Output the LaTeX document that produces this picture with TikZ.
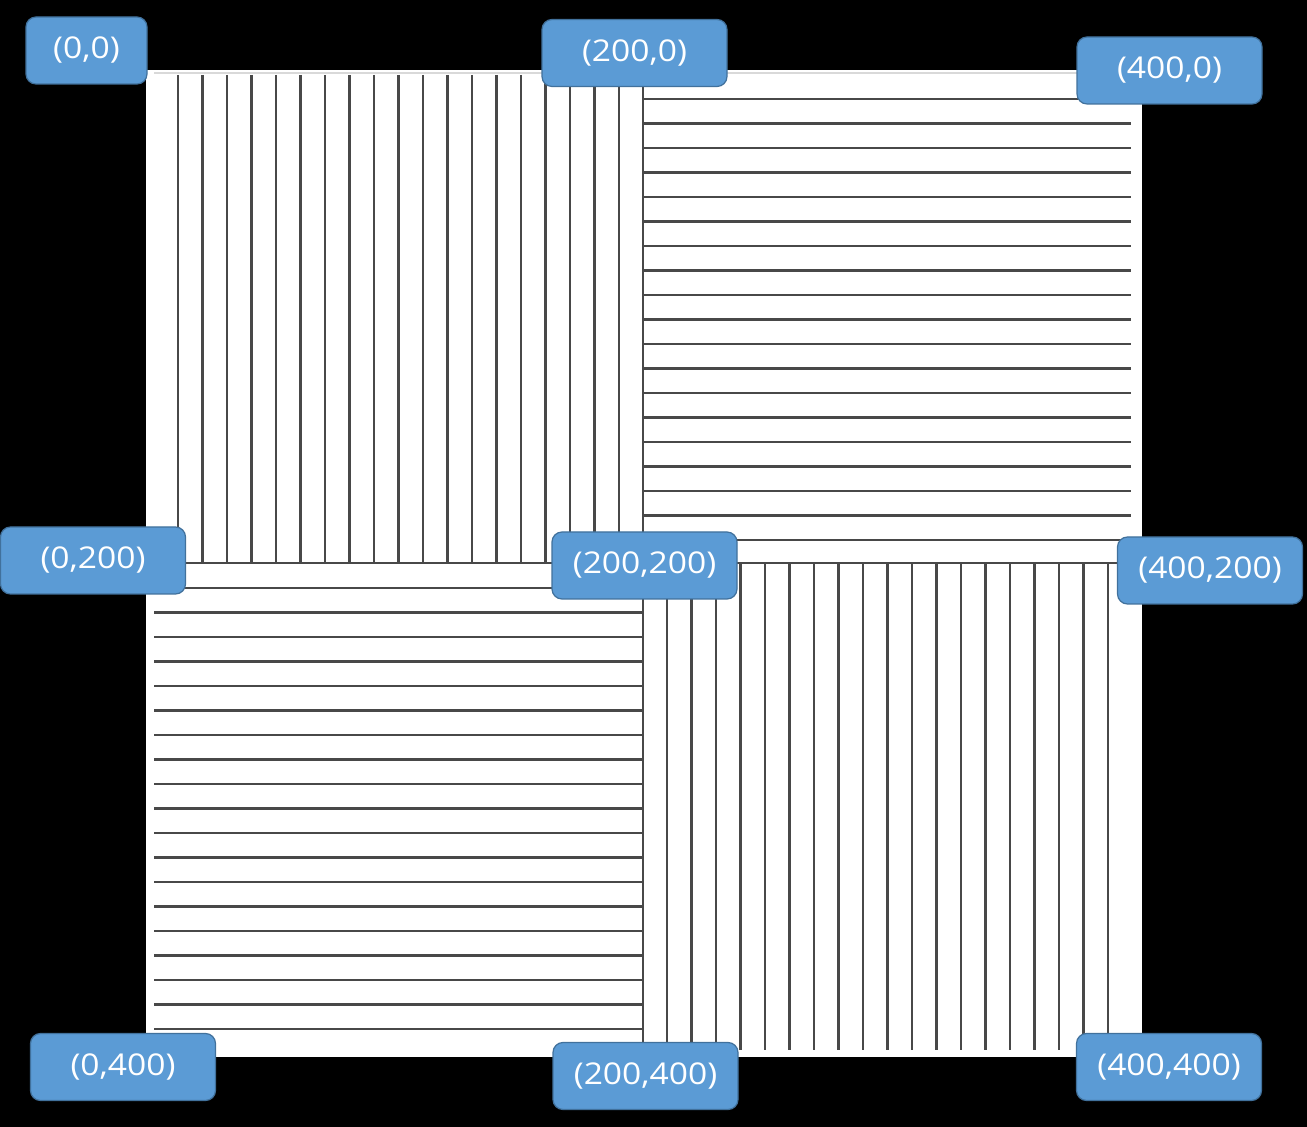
\documentclass[tikz,border=0pt]{standalone}
\usepackage{fontspec}
\newfontfamily\lblfont[FakeStretch=1.12]{Open Sans}
\definecolor{lblfill}{HTML}{5B9BD5}
\definecolor{lbldraw}{HTML}{41719C}
\definecolor{hatch}{HTML}{484848}
\begin{document}
\begin{tikzpicture}[x=0.5pt,y=-0.5pt,
  lbl/.style={draw=lbldraw, fill=lblfill, line width=0.6pt, rounded corners=5pt,
    minimum height=33.5pt, minimum width=92.5pt, inner sep=0pt, text=white,
    font=\lblfont\fontsize{15}{17}\selectfont},
  hatchline/.style={draw=hatch, line width=1.2pt}]
\useasboundingbox (0,0) rectangle (1307,1127);
\fill[black] (0,0) rectangle (1307,1127);
\fill[white] (146,70) rectangle (1142,1057);
\draw[black!15, line width=1.4pt] (154,73) -- (1131,73);
% top-left: vertical boards
\foreach \i in {0,...,18} \draw[hatchline] ({178+24.5*\i},75) -- ({178+24.5*\i},563);
% top-right: horizontal boards
\foreach \i in {0,...,18} \draw[hatchline] (643,{99+24.5*\i}) -- (1131,{99+24.5*\i});
% bottom-left: horizontal boards
\foreach \i in {0,...,18} \draw[hatchline] (154,{588+24.5*\i}) -- (643,{588+24.5*\i});
% bottom-right: vertical boards
\foreach \i in {0,...,18} \draw[hatchline] ({667+24.5*\i},563) -- ({667+24.5*\i},1050);
% dividers
\draw[hatchline] (643,75) -- (643,1050);
\draw[hatchline] (146,563) -- (1131,563);
% labels
\node[lbl, minimum width=60.5pt] (p00) at (86.5,50.5) {(0,0)};
\node[lbl] (p200-0) at (634.5,53) {(200,0)};
\node[lbl] (p400-0) at (1169.5,70.5) {(400,0)};
\node[lbl] (p0-200) at (93,560.5) {(0,200)};
\node[lbl] (p200-200) at (644.5,565.5) {(200,200)};
\node[lbl] (p400-200) at (1210,570.5) {(400,200)};
\node[lbl] (p0-400) at (123,1067) {(0,400)};
\node[lbl] (p200-400) at (645.5,1076) {(200,400)};
\node[lbl] (p400-400) at (1169,1067) {(400,400)};
\end{tikzpicture}
\end{document}
